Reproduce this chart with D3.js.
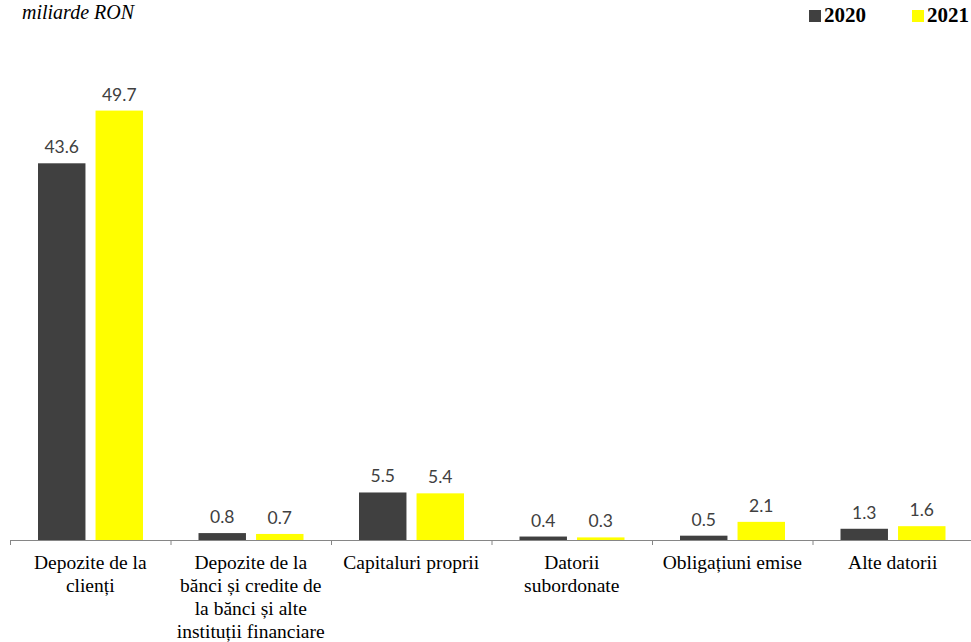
<!DOCTYPE html>
<html><head><meta charset="utf-8">
<script src="https://cdn.jsdelivr.net/npm/d3@7"></script>
<style>body{margin:0;background:#fff;}svg{display:block;}</style>
</head><body>
<svg id="c" width="971" height="642"></svg>
<script>
const categories = ["Depozite de la clienți","Depozite de la bănci și credite de la bănci și alte instituții financiare","Capitaluri proprii","Datorii subordonate","Obligațiuni emise","Alte datorii"];
const categoryLines = [["Depozite de la","clienți"],["Depozite de la","bănci și credite de","la bănci și alte","instituții financiare"],["Capitaluri proprii"],["Datorii","subordonate"],["Obligațiuni emise"],["Alte datorii"]];
const seriesNames = ["2020","2021"];
const values2020 = [43.6,0.8,5.5,0.4,0.5,1.3];
const values2021 = [49.7,0.7,5.4,0.3,2.1,1.6];
const colors = ["#404040","#FFFF00"];
const unitLabel = "miliarde RON";

const serif = "'Liberation Serif', 'Times New Roman', serif";
const svg = d3.select("#c");
const axisY = 540;
const x = d3.scaleBand().domain(categories).range([10, 973]).paddingInner(0).paddingOuter(0);
const x1 = d3.scaleBand().domain(seriesNames).range([28, x.bandwidth()-27.5]).paddingInner(0.175);
const y = d3.scaleLinear().domain([0, 55]).range([axisY, axisY - 55*8.64]);

const data = categories.map((c,i)=>({c, vals:[values2020[i], values2021[i]]}));

const g = svg.append("g");
data.forEach(d=>{
  d.vals.forEach((v,j)=>{
    const bx = x(d.c) + x1(seriesNames[j]);
    g.append("rect").attr("x", bx).attr("y", y(v)).attr("width", x1.bandwidth()).attr("height", axisY - y(v))
      .attr("fill", colors[j]);
    g.append("text").attr("x", bx + x1.bandwidth()/2).attr("y", y(v) - 10)
      .attr("text-anchor","middle").style("font-family","Lato, 'Open Sans', sans-serif").style("font-size","17.5px")
      .attr("fill","#404040").text(v.toFixed(1));
  });
});

// axis
const ax = svg.append("g").attr("transform",`translate(0,${axisY})`);
ax.append("line").attr("x1",10).attr("x2",971).attr("y1",0.5).attr("y2",0.5).attr("stroke","#868686").attr("stroke-width",1.2);
categories.forEach(c=>{
  ax.append("line").attr("x1",x(c)+0.5).attr("x2",x(c)+0.5).attr("y1",0).attr("y2",5).attr("stroke","#868686");
});
categories.forEach((c,i)=>{
  const t = ax.append("text").attr("text-anchor","middle").style("font-family",serif)
    .style("font-size","19.5px").attr("fill","#000");
  categoryLines[i].forEach((ln,k)=>{
    t.append("tspan").attr("x", x(c)+x.bandwidth()/2).attr("y", 28.5 + k*23.2).text(ln);
  });
});

// unit label
svg.append("text").attr("x",22).attr("y",19).style("font-family",serif).style("font-style","italic")
  .style("font-size","20px").attr("fill","#000").text(unitLabel);

// legend
const legX = [809, 912];
seriesNames.forEach((s,j)=>{
  svg.append("rect").attr("x",legX[j]).attr("y",10).attr("width",12).attr("height",12).attr("fill",colors[j]);
  svg.append("text").attr("x",legX[j]+15).attr("y",22).style("font-family",serif).style("font-weight","bold")
    .style("font-size","21px").attr("fill","#000").text(s);
});
</script>
</body></html>
